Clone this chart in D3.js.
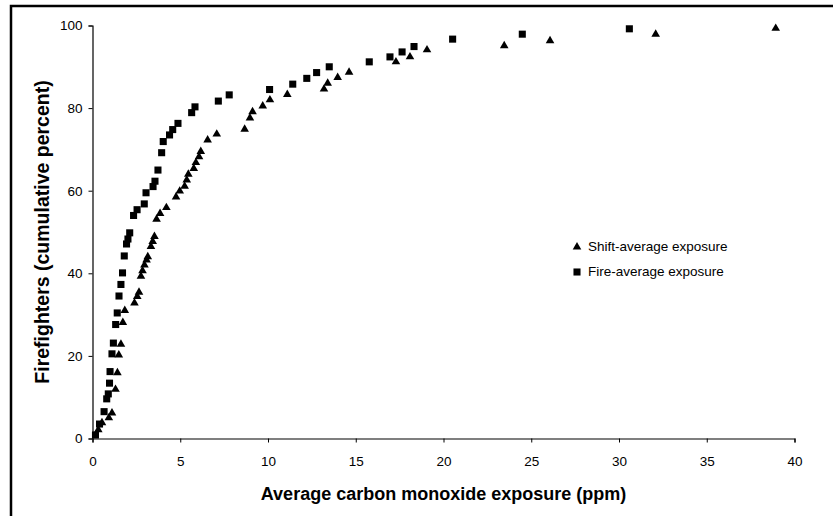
<!DOCTYPE html>
<html>
<head>
<meta charset="utf-8">
<script src="https://cdn.jsdelivr.net/npm/d3@7"></script>
<style>
  html, body { margin: 0; padding: 0; background: #fff; overflow: hidden; }
  svg { display: block; }
  text { font-family: "Liberation Sans", Arial, sans-serif; }
</style>
</head>
<body>
<div id="chart"></div>
<script>
var w = 833;
var h = 516;

// shift-average exposure (triangles)
var shiftX = [0.33, 0.54, 0.93, 1.11, 1.31, 1.42, 1.50, 1.62, 1.73, 1.84,
  2.39, 2.55, 2.65, 2.76, 2.85, 2.96, 3.08, 3.15, 3.33, 3.43,
  3.53, 3.65, 3.85, 4.21, 4.76, 4.97, 5.25, 5.37, 5.46, 5.77,
  5.89, 6.07, 6.17, 6.56, 7.08, 8.67, 8.97, 9.12, 9.70, 10.11,
  11.10, 13.19, 13.40, 13.97, 14.62, 17.29, 18.09, 19.06, 23.46, 26.07,
  32.09, 38.93];
var shiftY = [2.1, 3.8, 5.0, 6.2, 11.9, 15.9, 20.2, 22.8, 28.1, 31.0,
  32.8, 34.4, 35.4, 39.3, 40.6, 42.0, 43.2, 44.0, 46.5, 47.7,
  48.9, 53.1, 54.5, 55.9, 58.5, 59.9, 61.1, 62.6, 64.0, 65.4,
  66.8, 68.2, 69.5, 72.3, 73.7, 74.9, 77.6, 79.1, 80.5, 82.0,
  83.3, 84.6, 86.0, 87.4, 88.7, 91.2, 92.4, 94.1, 95.1, 96.3,
  97.9, 99.3];

// fire-average exposure (squares)
var fireX = [0.17, 0.40, 0.66, 0.81, 0.90, 0.97, 1.00, 1.11, 1.19, 1.32,
  1.41, 1.51, 1.62, 1.71, 1.81, 1.94, 2.02, 2.12, 2.34, 2.54,
  2.95, 3.05, 3.45, 3.56, 3.73, 3.94, 4.03, 4.39, 4.57, 4.87,
  5.65, 5.84, 7.17, 7.79, 10.09, 11.41, 12.21, 12.77, 13.49, 15.77,
  16.95, 17.64, 18.32, 20.52, 24.49, 30.59];
var fireY = [0.85, 3.5, 6.5, 9.6, 10.8, 13.4, 16.2, 20.5, 23.1, 27.6,
  30.4, 34.5, 37.3, 40.1, 44.2, 47.1, 48.3, 49.8, 54.0, 55.4,
  56.8, 59.5, 61.0, 62.3, 65.0, 69.2, 71.9, 73.5, 74.8, 76.3,
  78.9, 80.3, 81.7, 83.2, 84.5, 85.8, 87.2, 88.6, 90.0, 91.2,
  92.4, 93.6, 94.9, 96.7, 97.9, 99.2];

var xTicks = [0, 5, 10, 15, 20, 25, 30, 35, 40];
var yTicks = [0, 20, 40, 60, 80, 100];
var legendLabels = ["Shift-average exposure", "Fire-average exposure"];

var svg = d3.select("#chart").append("svg")
  .attr("width", w)
  .attr("height", h);

// frame of the figure (right and bottom edges fall outside the picture)
svg.append("rect")
  .attr("x", 11).attr("y", 6)
  .attr("width", 860).attr("height", 560)
  .attr("fill", "none")
  .attr("stroke", "#000")
  .attr("stroke-width", 2.5);

var x = d3.scaleLinear().domain([0, 40]).range([92.5, 794.5]);
var y = d3.scaleLinear().domain([0, 100]).range([438.5, 25.5]);

var xAxis = svg.append("g")
  .attr("transform", "translate(0," + y(0) + ")")
  .call(d3.axisBottom(x).tickValues(xTicks).tickSize(4).tickPadding(14).tickFormat(d3.format("d")));

var yAxis = svg.append("g")
  .attr("transform", "translate(" + x(0) + ",0)")
  .call(d3.axisLeft(y).tickValues(yTicks).tickSize(4).tickPadding(6).tickFormat(d3.format("d")));

[xAxis, yAxis].forEach(function(a) {
  a.select(".domain").attr("stroke", "#000").attr("stroke-width", 1.2);
  a.selectAll(".tick line").attr("stroke", "#000");
  a.selectAll("text").attr("font-size", 13.5).attr("fill", "#000")
    .style("font-family", "'Liberation Sans', Arial, sans-serif");
});

var shift = shiftX.map(function(d, i) { return [d, shiftY[i]]; });
var fire = fireX.map(function(d, i) { return [d, fireY[i]]; });

var tri = d3.symbol().type(d3.symbolTriangle).size(32);
var sq = d3.symbol().type(d3.symbolSquare).size(50);

svg.append("g").selectAll("path")
  .data(fire)
  .enter()
  .append("path")
  .attr("d", sq)
  .attr("transform", function(d) { return "translate(" + x(d[0]) + "," + y(d[1]) + ")"; })
  .attr("fill", "#000");

svg.append("g").selectAll("path")
  .data(shift)
  .enter()
  .append("path")
  .attr("d", tri)
  .attr("transform", function(d) { return "translate(" + x(d[0]) + "," + y(d[1]) + ")"; })
  .attr("fill", "#000");

// legend
var legend = svg.append("g");
legend.append("path").attr("d", tri).attr("transform", "translate(577,247)").attr("fill", "#000");
legend.append("path").attr("d", sq).attr("transform", "translate(577,272)").attr("fill", "#000");
legend.selectAll("text")
  .data(legendLabels)
  .enter()
  .append("text")
  .attr("x", 588)
  .attr("y", function(d, i) { return 251 + i * 25; })
  .attr("font-size", 13.5)
  .text(function(d) { return d; });

// axis titles
svg.append("text")
  .attr("x", (x(0) + x(40)) / 2)
  .attr("y", 500)
  .attr("text-anchor", "middle")
  .attr("font-size", 18)
  .attr("font-weight", "bold")
  .text("Average carbon monoxide exposure (ppm)");

svg.append("text")
  .attr("transform", "translate(49," + y(50) + ") rotate(-90)")
  .attr("text-anchor", "middle")
  .attr("font-size", 19.5)
  .attr("font-weight", "bold")
  .text("Firefighters (cumulative percent)");
</script>
</body>
</html>
